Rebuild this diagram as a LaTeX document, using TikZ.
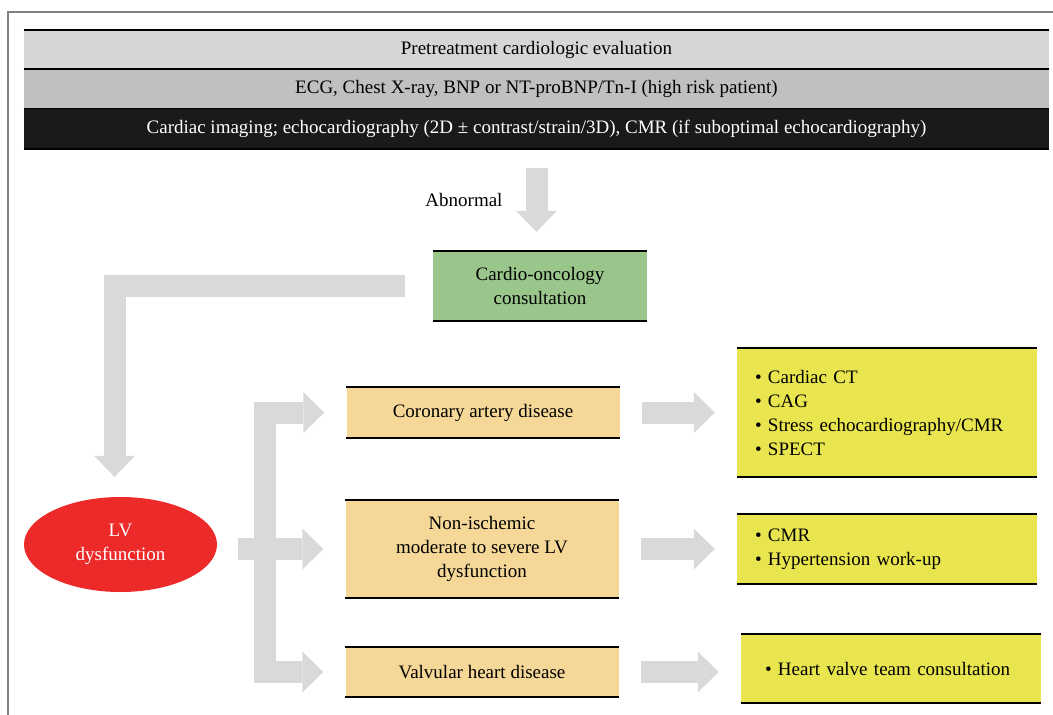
\documentclass[tikz,border=0pt]{standalone}
\usepackage{fontspec}
\setmainfont{Liberation Serif}
\usetikzlibrary{arrows.meta, positioning, shapes.geometric}

\definecolor{barlight}{HTML}{D6D6D6}
\definecolor{barmid}{HTML}{C0C0C0}
\definecolor{bardark}{HTML}{1A1A1A}
\definecolor{oncogreen}{HTML}{9AC68C}
\definecolor{dxorange}{HTML}{F5D897}
\definecolor{testyellow}{HTML}{E9E54F}
\definecolor{lvred}{HTML}{EC2A2A}
\definecolor{flowgray}{HTML}{D9D9D9}
\definecolor{framegray}{HTML}{808080}

\tikzset{
    Fat/.tip={Triangle[length=21pt, width=41pt, line width=0pt]},
    txt/.style={font=\fontsize{19}{24}\selectfont, align=center, inner sep=0pt},
    bar/.style={txt, minimum width=1025pt, minimum height=39pt},
    dxbox/.style={txt, fill=dxorange, minimum width=273pt},
    testbox/.style={txt, fill=testyellow, align=left, minimum width=300pt, text width=264pt, inner xsep=18pt},
    rule/.style={line width=1.6pt, black},
    fat/.style={draw=flowgray, line width=22pt, -Fat},
}

\begin{document}
\begin{tikzpicture}[x=1pt, y=-1pt]
    \useasboundingbox (0,0) rectangle (1053,715);

    \draw[framegray, line width=1.2pt] (8,715) -- (8,12) -- (1053,12);

    % evaluation bars
    \node[bar, fill=barlight] (bar1) at (536.5,49.5) {Pretreatment cardiologic evaluation};
    \node[bar, fill=barmid, below=0pt of bar1] (bar2) {ECG, Chest X-ray, BNP or NT-proBNP/Tn-I (high risk patient)};
    \node[bar, fill=bardark, text=white, minimum height=40pt, below=0pt of bar2] (bar3)
        {Cardiac imaging; echocardiography (2D ± contrast/strain/3D), CMR (if suboptimal echocardiography)};

    \node[txt, fill=oncogreen, minimum width=214pt, minimum height=70pt] (onco) at (540,286)
        {Cardio-oncology\\consultation};

    \node[txt, ellipse, fill=lvred, text=white, minimum width=193pt, minimum height=95pt] (lv) at (120.5,544.5)
        {LV\\dysfunction};

    % suspected causes
    \node[dxbox, minimum height=51pt] (cad) at (483,412.5) {Coronary artery disease};
    \node[dxbox, minimum height=98pt] (ni) at (482,549) {Non-ischemic\\moderate to severe LV\\dysfunction};
    \node[dxbox, minimum height=50pt] (vhd) at (482,672) {Valvular heart disease};

    % work-up
    \node[testbox, minimum height=129pt] (ct) at (887,412.5)
        {\textbullet~Cardiac CT\\\textbullet~CAG\\\textbullet~Stress echocardiography/CMR\\\textbullet~SPECT};
    \node[testbox, minimum height=70pt] (cmr) at (887,549)
        {\textbullet~CMR\\\textbullet~Hypertension work-up};
    \node[testbox, minimum height=69pt, inner xsep=24pt, text width=252pt] (hvt) at (891,668.5)
        {\textbullet~Heart valve team consultation};

    \foreach \n in {bar1, bar3, onco, cad, ni, vhd, ct, cmr, hvt}
        \draw[rule] (\n.north west) -- (\n.north east) (\n.south west) -- (\n.south east);

    % flow arrows
    \draw[fat, shorten <=19pt, shorten >=19pt] (bar3.south) -- (bar3.south |- onco.north)
        node[midway, left=23pt, txt] {Abnormal};

    \coordinate (lvin) at ([xshift=-6pt]lv.north);
    \draw[fat, line join=miter, shorten <=28pt, shorten >=20pt]
        (onco.west) -- (onco.west -| lvin) -- (lvin);

    \coordinate (spine) at (265,0);
    \draw[fat, line join=miter, Fat-Fat, shorten <=22pt, shorten >=22pt]
        (cad.west) -- (cad.west -| spine) -- (vhd.west -| spine) -- (vhd.west);
    \draw[fat, shorten <=21pt, shorten >=22pt] (lv.east |- ni.west) -- (ni.west);

    \foreach \a/\b in {cad/ct, ni/cmr, vhd/hvt}
        \draw[fat, shorten <=22pt, shorten >=22pt] (\a.east) -- (\a.east -| \b.west);
\end{tikzpicture}
\end{document}
